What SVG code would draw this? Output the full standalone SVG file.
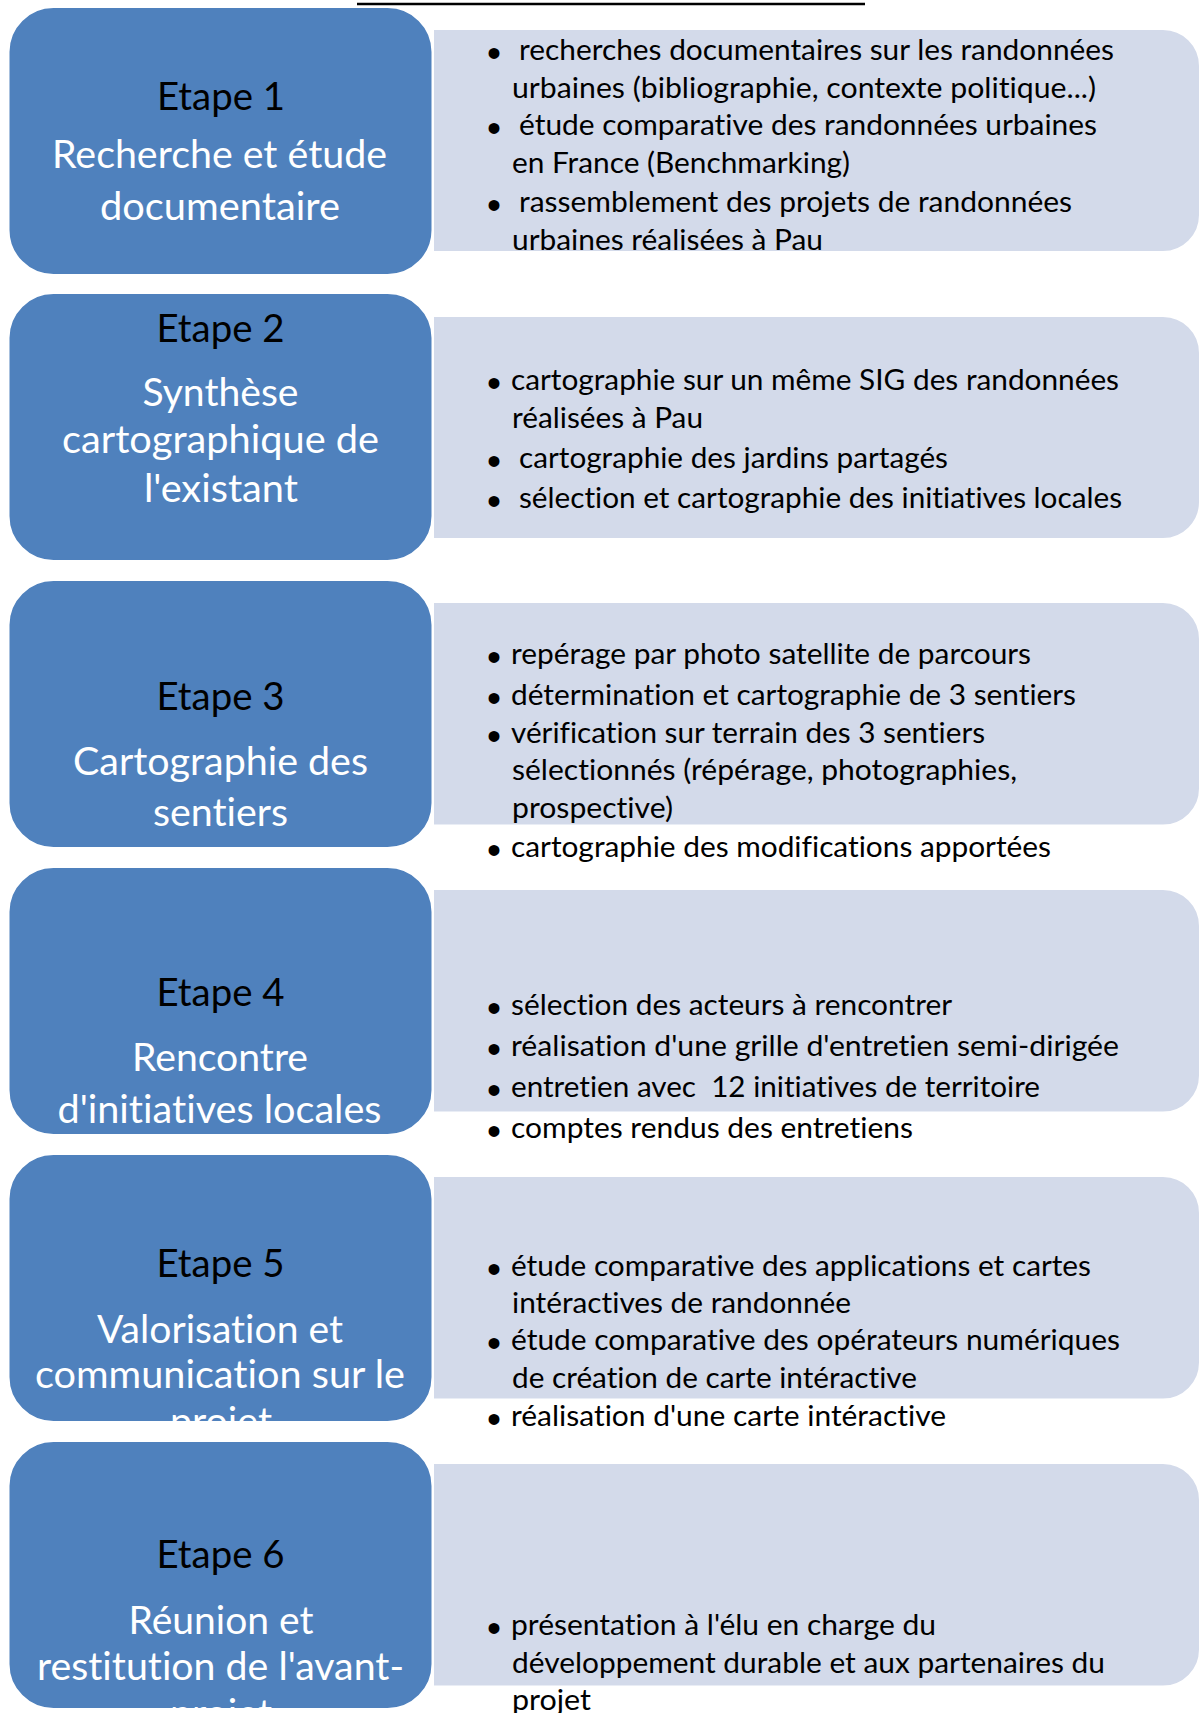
<svg xmlns="http://www.w3.org/2000/svg" width="1201" height="1713" viewBox="0 0 1201 1713">
<style>
.blue{fill:#4F81BD;stroke:#FFFFFF;stroke-width:2}
.light{fill:#D3DAEA;stroke:#FFFFFF;stroke-width:2}
text{font-variant-ligatures:none}
.h{font-family:Lato,"Liberation Sans",sans-serif;font-size:39px;text-anchor:middle;fill:#000000}
.w{font-family:Lato,"Liberation Sans",sans-serif;font-size:39px;text-anchor:middle;fill:#FFFFFF}
.t{font-family:Lato,"Liberation Sans",sans-serif;font-size:28.5px;fill:#000000}
.b{font-family:"Liberation Sans",sans-serif;font-size:40px;text-anchor:middle;fill:#000000}
</style>
<rect width="1201" height="1713" fill="#FFFFFF"/>
<g id="title">
<line x1="357" y1="4" x2="865" y2="4" stroke="#000000" stroke-width="2.5"/>
</g>
<g id="connectors"></g>

<g id="etape6">
<rect class="blue" x="8.5" y="1441" width="424" height="268" rx="45" ry="45"/>
<path class="light" d="M433,1463 H1163 A37,37 0 0 1 1200,1500 V1649.5 A37,37 0 0 1 1163,1686.5 H433 Z"/>
<text class="h" x="220.5" y="1568" textLength="128" lengthAdjust="spacingAndGlyphs">Etape 6</text>
<text class="w" x="221" y="1634" textLength="185" lengthAdjust="spacingAndGlyphs">Réunion et</text>
<text class="w" x="220.5" y="1680" textLength="367" lengthAdjust="spacingAndGlyphs">restitution de l'avant-</text>
<text class="w" x="221" y="1727" textLength="102" lengthAdjust="spacingAndGlyphs">projet</text>
<text class="b" x="494" y="1642">•</text>
<text class="t" x="511" y="1635" textLength="425" lengthAdjust="spacingAndGlyphs">présentation à l'élu en charge du</text>
<text class="t" x="512" y="1673" textLength="593" lengthAdjust="spacingAndGlyphs">développement durable et aux partenaires du</text>
<text class="t" x="512" y="1710" textLength="79" lengthAdjust="spacingAndGlyphs">projet</text>
</g>

<g id="etape5">
<rect class="blue" x="8.5" y="1154" width="424" height="268" rx="45" ry="45"/>
<path class="light" d="M433,1176 H1163 A37,37 0 0 1 1200,1213 V1362.5 A37,37 0 0 1 1163,1399.5 H433 Z"/>
<text class="h" x="220.5" y="1277" textLength="128" lengthAdjust="spacingAndGlyphs">Etape 5</text>
<text class="w" x="220" y="1343" textLength="246" lengthAdjust="spacingAndGlyphs">Valorisation et</text>
<text class="w" x="220" y="1388" textLength="370" lengthAdjust="spacingAndGlyphs">communication sur le</text>
<text class="w" x="221" y="1435" textLength="102" lengthAdjust="spacingAndGlyphs">projet</text>
<text class="b" x="494" y="1283">•</text>
<text class="t" x="511" y="1276" textLength="580" lengthAdjust="spacingAndGlyphs">étude comparative des applications et cartes</text>
<text class="t" x="512" y="1313" textLength="339" lengthAdjust="spacingAndGlyphs">intéractives de randonnée</text>
<text class="b" x="494" y="1357">•</text>
<text class="t" x="511" y="1350" textLength="609" lengthAdjust="spacingAndGlyphs">étude comparative des opérateurs numériques</text>
<text class="t" x="512" y="1388" textLength="405" lengthAdjust="spacingAndGlyphs">de création de carte intéractive</text>
<text class="b" x="494" y="1433">•</text>
<text class="t" x="511" y="1426" textLength="435" lengthAdjust="spacingAndGlyphs">réalisation d'une carte intéractive</text>
</g>

<g id="etape4">
<rect class="blue" x="8.5" y="867" width="424" height="268" rx="45" ry="45"/>
<path class="light" d="M433,889 H1163 A37,37 0 0 1 1200,926 V1075.5 A37,37 0 0 1 1163,1112.5 H433 Z"/>
<text class="h" x="220.5" y="1006" textLength="128" lengthAdjust="spacingAndGlyphs">Etape 4</text>
<text class="w" x="220" y="1071" textLength="176" lengthAdjust="spacingAndGlyphs">Rencontre</text>
<text class="w" x="219.5" y="1123" textLength="324" lengthAdjust="spacingAndGlyphs">d'initiatives locales</text>
<text class="b" x="494" y="1022">•</text>
<text class="t" x="511" y="1015" textLength="441" lengthAdjust="spacingAndGlyphs">sélection des acteurs à rencontrer</text>
<text class="b" x="494" y="1063">•</text>
<text class="t" x="511" y="1056" textLength="608" lengthAdjust="spacingAndGlyphs">réalisation d'une grille d'entretien semi-dirigée</text>
<text class="b" x="494" y="1104">•</text>
<text class="t" x="511" y="1097" textLength="529" lengthAdjust="spacingAndGlyphs" xml:space="preserve">entretien avec  12 initiatives de territoire</text>
<text class="b" x="494" y="1145">•</text>
<text class="t" x="511" y="1138" textLength="402" lengthAdjust="spacingAndGlyphs">comptes rendus des entretiens</text>
</g>

<g id="etape3">
<rect class="blue" x="8.5" y="580" width="424" height="268" rx="45" ry="45"/>
<path class="light" d="M433,602 H1163 A37,37 0 0 1 1200,639 V788.5 A37,37 0 0 1 1163,825.5 H433 Z"/>
<text class="h" x="220.5" y="710" textLength="128" lengthAdjust="spacingAndGlyphs">Etape 3</text>
<text class="w" x="220.5" y="775" textLength="295" lengthAdjust="spacingAndGlyphs">Cartographie des</text>
<text class="w" x="220.5" y="826" textLength="135" lengthAdjust="spacingAndGlyphs">sentiers</text>
<text class="b" x="494" y="671">•</text>
<text class="t" x="511" y="664" textLength="520" lengthAdjust="spacingAndGlyphs">repérage par photo satellite de parcours</text>
<text class="b" x="494" y="712">•</text>
<text class="t" x="511" y="705" textLength="565" lengthAdjust="spacingAndGlyphs">détermination et cartographie de 3 sentiers</text>
<text class="b" x="494" y="750">•</text>
<text class="t" x="511" y="743" textLength="474" lengthAdjust="spacingAndGlyphs">vérification sur terrain des 3 sentiers</text>
<text class="t" x="512" y="780" textLength="505" lengthAdjust="spacingAndGlyphs">sélectionnés (répérage, photographies,</text>
<text class="t" x="512" y="818" textLength="161" lengthAdjust="spacingAndGlyphs">prospective)</text>
<text class="b" x="494" y="864">•</text>
<text class="t" x="511" y="857" textLength="540" lengthAdjust="spacingAndGlyphs">cartographie des modifications apportées</text>
</g>

<g id="etape2">
<rect class="blue" x="8.5" y="293" width="424" height="268" rx="45" ry="45"/>
<path class="light" d="M433,316 H1163 A37,37 0 0 1 1200,353 V502 A37,37 0 0 1 1163,539 H433 Z"/>
<text class="h" x="220.5" y="342" textLength="128" lengthAdjust="spacingAndGlyphs">Etape 2</text>
<text class="w" x="220.5" y="406" textLength="156" lengthAdjust="spacingAndGlyphs">Synthèse</text>
<text class="w" x="220.5" y="453" textLength="317" lengthAdjust="spacingAndGlyphs">cartographique de</text>
<text class="w" x="221" y="502" textLength="154" lengthAdjust="spacingAndGlyphs">l'existant</text>
<text class="b" x="494" y="397">•</text>
<text class="t" x="511" y="390" textLength="608" lengthAdjust="spacingAndGlyphs">cartographie sur un même SIG des randonnées</text>
<text class="t" x="512" y="428" textLength="191" lengthAdjust="spacingAndGlyphs">réalisées à Pau</text>
<text class="b" x="494" y="475">•</text>
<text class="t" x="519" y="468" textLength="429" lengthAdjust="spacingAndGlyphs">cartographie des jardins partagés</text>
<text class="b" x="494" y="515">•</text>
<text class="t" x="519" y="508" textLength="603" lengthAdjust="spacingAndGlyphs">sélection et cartographie des initiatives locales</text>
</g>

<g id="etape1">
<rect class="blue" x="8.5" y="7" width="424" height="268" rx="45" ry="45"/>
<path class="light" d="M433,29 H1163 A37,37 0 0 1 1200,66 V215 A37,37 0 0 1 1163,252 H433 Z"/>
<text class="h" x="221" y="110" textLength="128" lengthAdjust="spacingAndGlyphs">Etape 1</text>
<text class="w" x="219.5" y="168" textLength="335" lengthAdjust="spacingAndGlyphs">Recherche et étude</text>
<text class="w" x="220" y="220" textLength="240" lengthAdjust="spacingAndGlyphs">documentaire</text>
<text class="b" x="494" y="67">•</text>
<text class="t" x="519" y="60" textLength="595" lengthAdjust="spacingAndGlyphs">recherches documentaires sur les randonnées</text>
<text class="t" x="512" y="98" textLength="584" lengthAdjust="spacingAndGlyphs">urbaines (bibliographie, contexte politique...)</text>
<text class="b" x="494" y="142">•</text>
<text class="t" x="519" y="135" textLength="578" lengthAdjust="spacingAndGlyphs">étude comparative des randonnées urbaines</text>
<text class="t" x="512" y="173" textLength="338" lengthAdjust="spacingAndGlyphs">en France (Benchmarking)</text>
<text class="b" x="494" y="219">•</text>
<text class="t" x="519" y="212" textLength="553" lengthAdjust="spacingAndGlyphs">rassemblement des projets de randonnées</text>
<text class="t" x="512" y="250" textLength="311" lengthAdjust="spacingAndGlyphs">urbaines réalisées à Pau</text>
</g>
</svg>
